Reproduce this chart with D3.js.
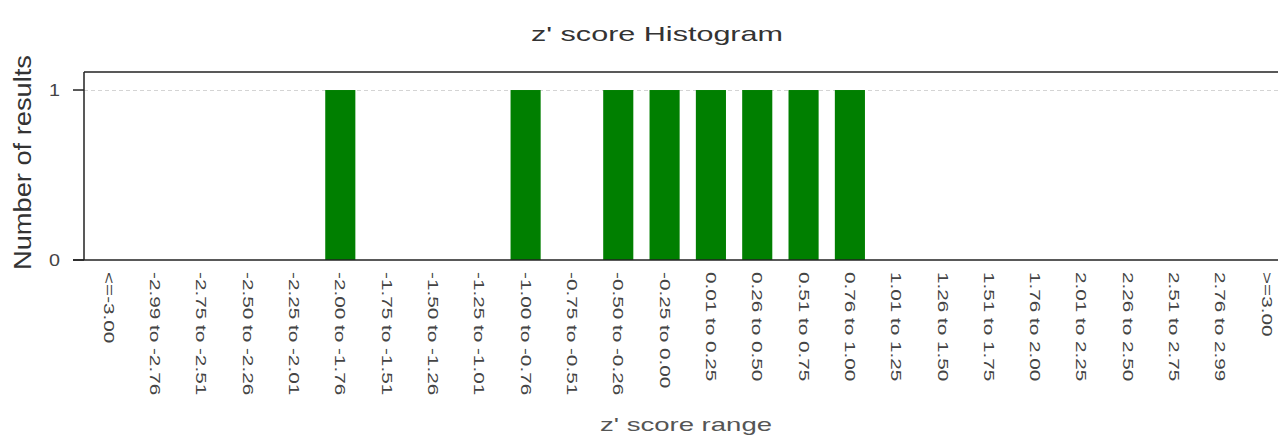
<!DOCTYPE html>
<html>
<head>
<meta charset="utf-8">
<script src="https://cdn.jsdelivr.net/npm/d3@7"></script>
<style>
  body { margin: 0; background: #fff; }
  svg { display: block; font-family: "Liberation Sans", Arial, sans-serif; }
</style>
</head>
<body>
<svg id="chart" width="1278" height="441"></svg>
<script>
var categories = ["<=-3.00", "-2.99 to -2.76", "-2.75 to -2.51", "-2.50 to -2.26", "-2.25 to -2.01",
  "-2.00 to -1.76", "-1.75 to -1.51", "-1.50 to -1.26", "-1.25 to -1.01", "-1.00 to -0.76",
  "-0.75 to -0.51", "-0.50 to -0.26", "-0.25 to 0.00", "0.01 to 0.25", "0.26 to 0.50",
  "0.51 to 0.75", "0.76 to 1.00", "1.01 to 1.25", "1.26 to 1.50", "1.51 to 1.75",
  "1.76 to 2.00", "2.01 to 2.25", "2.26 to 2.50", "2.51 to 2.75", "2.76 to 2.99", ">=3.00"];
var counts = [0, 0, 0, 0, 0, 1, 0, 0, 0, 1, 0, 1, 1, 1, 1, 1, 1, 0, 0, 0, 0, 0, 0, 0, 0, 0];
var yTicks = [0, 1];

var svg = d3.select('#chart');
// plot box; right side runs past the window edge like in the original
var plotLeft = 84, plotTop = 72, plotBottom = 260, plotRight = 1290;

var x = d3.scaleBand()
    .domain(categories)
    .range([plotLeft + 1.5, plotRight])
    .paddingInner(0.35)
    .paddingOuter(0.175);

var y = d3.scaleLinear()
    .domain([0, 1.106])
    .range([plotBottom, plotTop]);

// grid line
svg.selectAll('line.grid')
    .data(yTicks.filter(function(d) { return d > 0; }))
    .enter().append('line')
        .attr('class', 'grid')
        .attr('x1', plotLeft).attr('x2', 1278)
        .attr('y1', function(d) { return y(d) + 0.5; })
        .attr('y2', function(d) { return y(d) + 0.5; })
        .attr('stroke', '#d4d4d4')
        .attr('stroke-dasharray', '4,3');

// bars
svg.selectAll('rect.bar')
    .data(counts)
    .enter().append('rect')
        .attr('class', 'bar')
        .attr('x', function(d, i) { return x(categories[i]); })
        .attr('width', x.bandwidth())
        .attr('y', function(d) { return y(d); })
        .attr('height', function(d) { return plotBottom - y(d); })
        .attr('fill', '#007f00');

// frame
svg.append('line').attr('x1', plotLeft).attr('x2', 1278).attr('y1', plotTop).attr('y2', plotTop)
    .attr('stroke', '#222').attr('stroke-width', 1.5);
svg.append('line').attr('x1', plotLeft).attr('x2', plotLeft).attr('y1', plotTop).attr('y2', plotBottom)
    .attr('stroke', '#222').attr('stroke-width', 1.5);
svg.append('line').attr('x1', 73).attr('x2', 1278).attr('y1', plotBottom).attr('y2', plotBottom)
    .attr('stroke', '#222').attr('stroke-width', 1.5);

// y ticks
var yAxis = svg.append('g');
yAxis.selectAll('line')
    .data(yTicks)
    .enter().append('line')
        .attr('x1', 73).attr('x2', plotLeft)
        .attr('y1', function(d) { return y(d); })
        .attr('y2', function(d) { return y(d); })
        .attr('stroke', '#222').attr('stroke-width', 1.5);
yAxis.selectAll('text')
    .data(yTicks)
    .enter().append('text')
        .attr('x', 60)
        .attr('y', function(d) { return y(d); })
        .attr('dy', '0.36em')
        .attr('text-anchor', 'end')
        .attr('font-size', 17)
        .attr('fill', '#444')
        .attr('textLength', 11)
        .attr('lengthAdjust', 'spacingAndGlyphs')
        .text(function(d) { return d; });

// x labels, rotated and stretched along the reading direction
svg.append('g').selectAll('text')
    .data(categories)
    .enter().append('text')
        .attr('transform', function(d) {
            return 'translate(' + (x(d) + x.bandwidth() / 2) + ',272) rotate(90) scale(1.48,1)';
        })
        .attr('dy', '0.36em')
        .attr('font-size', 14)
        .attr('fill', '#444')
        .text(function(d) { return d; });

// titles
svg.append('text')
    .attr('x', 531).attr('y', 41)
    .attr('font-size', 21)
    .attr('fill', '#333')
    .attr('textLength', 252)
    .attr('lengthAdjust', 'spacingAndGlyphs')
    .text("z' score Histogram");

svg.append('text')
    .attr('transform', 'translate(31,270) rotate(-90)')
    .attr('font-size', 23)
    .attr('fill', '#333')
    .attr('textLength', 215)
    .attr('lengthAdjust', 'spacingAndGlyphs')
    .text('Number of results');

svg.append('text')
    .attr('x', 600).attr('y', 431)
    .attr('font-size', 19)
    .attr('fill', '#555')
    .attr('textLength', 172)
    .attr('lengthAdjust', 'spacingAndGlyphs')
    .text("z' score range");
</script>
</body>
</html>
